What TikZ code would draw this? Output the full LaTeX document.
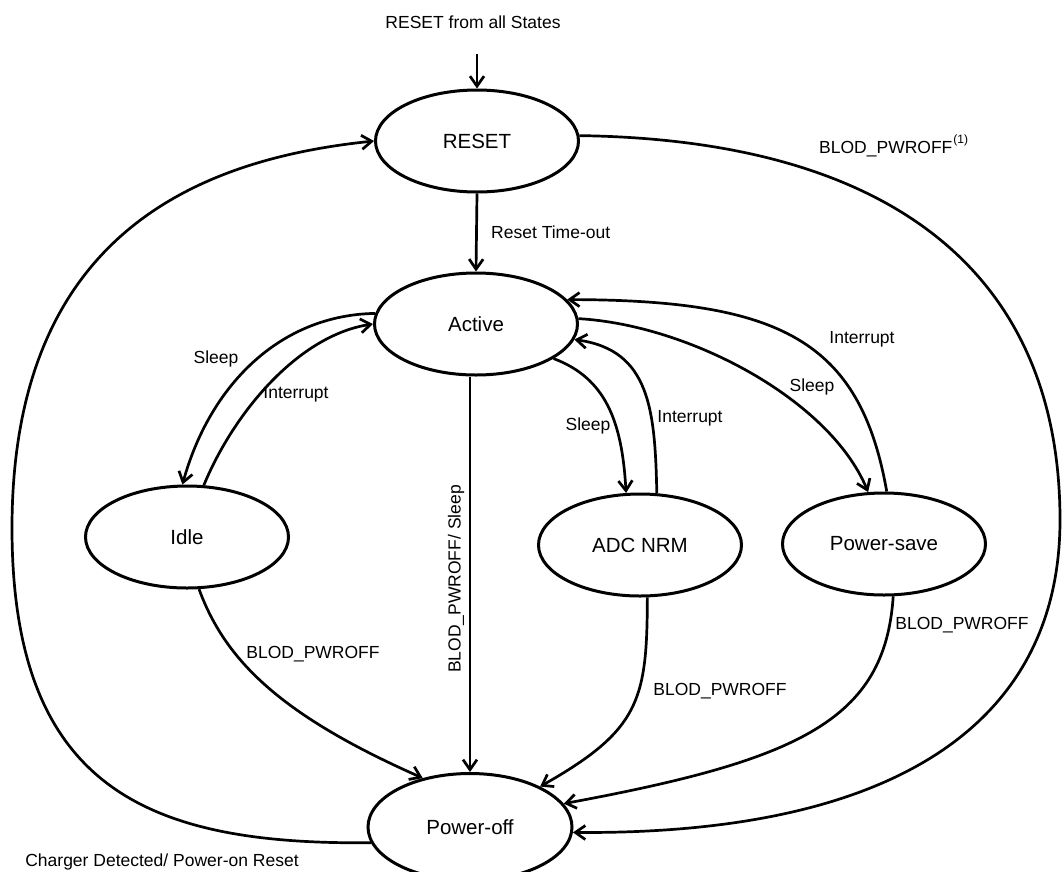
\documentclass[tikz,border=0pt]{standalone}
\usepackage{fontspec}
\setmainfont{Liberation Sans}
\usetikzlibrary{shapes.geometric,arrows.meta}
\begin{document}
\begin{tikzpicture}[x=1pt,y=-1pt,
  stnode/.style={draw, ellipse, line width=3pt, minimum width=203pt, minimum height=102pt, inner sep=0pt, font=\fontsize{20.5}{24}\selectfont},
  lbl/.style={inner sep=0pt, font=\fontsize{17.5}{21}\selectfont, anchor=base},
  conn/.style={line width=2.7pt, -{Straight Barb[length=10pt,width=14pt]}}]
\useasboundingbox (0,0) rectangle (1063,871);
\node[stnode] (reset) at (477,141) {RESET};
\node[stnode] (active) at (476,324) {Active};
\node[stnode] (idle) at (187,537) {Idle};
\node[stnode] (adc) at (640,545) {ADC NRM};
\node[stnode] (ps) at (884,544) {Power-save};
\node[stnode, minimum width=204pt, minimum height=107pt] (po) at (470,827) {Power-off};
\coordinate (rin) at (477,54);
\coordinate (re) at (1060,520);
\coordinate (le) at (12,528);
% connectors
\draw[conn] (rin) -- (reset.north);
\draw[conn] (reset.south) -- (active.north);
\draw[conn] (reset.3) .. controls (900,140) and (1060,280) .. (re) .. controls (1060,720) and (900,835) .. (po.-3);
\draw[conn] (po.189) .. controls (150,845) and (12,790) .. (le) .. controls (12,240) and (190,160) .. (reset.west);
\draw[conn] (active.174) .. controls (280,315) and (210,385) .. (idle.95);
\draw[conn] (idle.72) .. controls (235,410) and (300,335) .. (active.180);
\draw[conn] (active.-24) .. controls (605,378) and (622,420) .. (adc.105);
\draw[conn] (adc.72) .. controls (655,410) and (650,350) .. (active.-9);
\draw[conn] (active.3) .. controls (690,325) and (830,400) .. (ps.107);
\draw[conn] (ps.87) .. controls (860,340) and (780,300) .. (active.15);
\draw[conn] (active.south -| po.north) -- (po.north);
\draw[conn] (idle.-77) .. controls (225,660) and (280,715) .. (po.134);
\draw[conn] (adc.-82) .. controls (647,700) and (640,730) .. (po.30);
\draw[conn] (ps.-80) .. controls (885,720) and (800,760) .. (po.14);
% labels
\node[lbl] (tRin) at (473,28.3) {RESET from all States};
\node[lbl, anchor=base west] (tRT) at (491,238.3) {Reset Time-out};
\node[lbl, anchor=base west] (tB1) at (819,153) {BLOD\_PWROFF\kern1pt\raisebox{10pt}{\fontsize{12}{14}\selectfont(1)}};
\node[lbl] (tS1) at (216,363.3) {Sleep};
\node[lbl] (tI1) at (296,398.3) {Interrupt};
\node[lbl, anchor=center, rotate=90] (tBS) at (456,579) {BLOD\_PWROFF/ Sleep};
\node[lbl] (tS2) at (588,430.3) {Sleep};
\node[lbl] (tI2) at (690,422.3) {Interrupt};
\node[lbl] (tS3) at (812,391.3) {Sleep};
\node[lbl] (tI3) at (862,343.3) {Interrupt};
\node[lbl] (tB2) at (313,658.3) {BLOD\_PWROFF};
\node[lbl] (tB3) at (720,695.3) {BLOD\_PWROFF};
\node[lbl] (tB4) at (962,629.3) {BLOD\_PWROFF};
\node[lbl] (tCh) at (162,866.3) {Charger Detected/ Power-on Reset};
\end{tikzpicture}
\end{document}
